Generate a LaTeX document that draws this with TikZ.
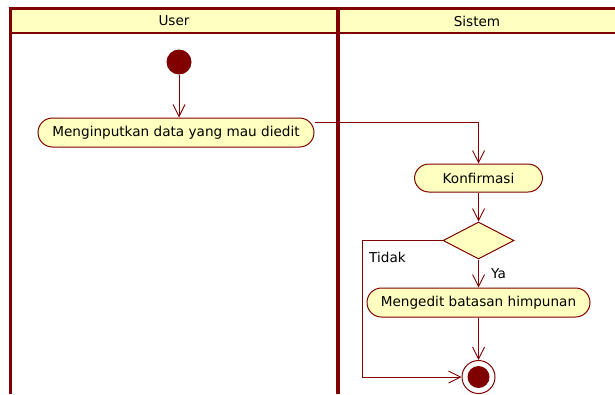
\documentclass[tikz,border=0pt]{standalone}
\usepackage{fontspec}
\setmainfont{DejaVu Sans}
\usetikzlibrary{arrows.meta,shapes.geometric}
\definecolor{umlred}{RGB}{128,0,0}
\definecolor{umlyel}{RGB}{255,255,192}
\tikzset{
  lane/.style={draw=umlred, line width=3pt},
  actbox/.style={draw=umlred, fill=umlyel, line width=1pt, rounded corners=14.5pt, minimum height=29pt, inner sep=0pt, font=\fontsize{13.6}{15}\selectfont},
  flow/.style={draw=umlred, line width=0.9pt, -{Straight Barb[length=12pt,width=12pt,line width=0.9pt]}},
  lbl/.style={font=\fontsize{13.6}{15}\selectfont, inner sep=0pt}
}
\begin{document}
\begin{tikzpicture}[x=1pt,y=-1pt]
\useasboundingbox (0,0) rectangle (615,394);
% swimlanes
\fill[umlyel] (10,8) rectangle (615,33);
\draw[umlred, line width=2pt] (10,33) -- (615,33);
\draw[lane] (615,8) -- (10,8) -- (10,394);
\draw[umlred, line width=4pt] (338,8) -- (338,394);
\node[lbl] (huser) at (174,21) {User};
\node[lbl] (hsis) at (477,21) {Sistem};
% nodes
\node[circle, fill=umlred, minimum size=25pt, inner sep=0pt] (start) at (179,62) {};
\node[actbox, minimum width=276pt] (a1) at (176,132.5) {Menginputkan data yang mau diedit};
\node[actbox, minimum width=128pt, minimum height=28pt] (konf) at (478.5,178) {Konfirmasi};
\node[diamond, draw=umlred, fill=umlyel, line width=1pt, aspect=1.92, minimum width=71pt, minimum height=37pt, inner sep=0pt] (dia) at (478.5,240.5) {};
\node[actbox, minimum width=223pt, minimum height=29pt] (edit) at (478.5,302.5) {Mengedit batasan himpunan};
\node[circle, draw=umlred, fill=white, line width=1pt, minimum size=33pt, inner sep=0pt] (fin) at (478.5,377) {};
\node[circle, fill=umlred, minimum size=22pt, inner sep=0pt] (finin) at (fin.center) {};
\coordinate (tk) at (362.5,240.5);
% connectors
\draw[flow] (start) -- (start |- a1.north);
\draw[flow] ([yshift=10.5pt]a1.east) -| (konf.north);
\draw[flow] (konf) -- (dia.north);
\draw[flow] (dia) -- (dia |- edit.north);
\draw[flow] (edit) -- (fin);
\draw[flow] (dia.west) -- (tk) |- (fin.west);
\node[lbl, anchor=west] (tidak) at (369,257) {Tidak};
\node[lbl, anchor=west] (ya) at (491,274) {Ya};
\end{tikzpicture}
\end{document}
